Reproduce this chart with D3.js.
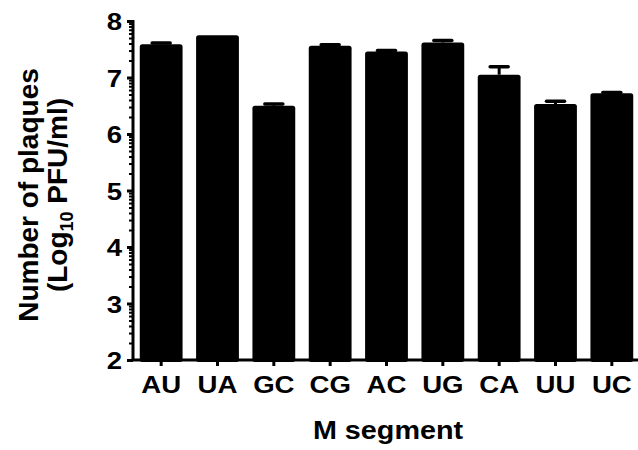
<!DOCTYPE html>
<html>
<head>
<meta charset="utf-8">
<script src="https://cdn.jsdelivr.net/npm/d3@7"></script>
<style>
  body { margin: 0; background: #fff; }
  text { font-family: Arial, "Liberation Sans", sans-serif; font-weight: bold; fill: #000; }
</style>
</head>
<body>
<svg id="chart" width="638" height="450"></svg>
<script>
'use strict';

var segments = ["AU", "UA", "GC", "CG", "AC", "UG", "CA", "UU", "UC"];
var plaques  = [7.59, 7.75, 6.50, 7.56, 7.46, 7.62, 7.05, 6.53, 6.72];
var sem      = [0.02, 0.00, 0.03, 0.02, 0.02, 0.035, 0.14, 0.05, 0.015];
var yTicks   = [2, 3, 4, 5, 6, 7, 8];

var WIDTH = 638;
var HEIGHT = 450;
var LEFT = 133;
var RIGHT = 640;
var TOP = 21;
var BOTTOM = 360;
var STRETCH = 1.15; // the picture's text is a bit wider than plain Arial

var svg = d3.select("#chart");

var x = d3.scaleBand()
.domain(segments)
.range([LEFT, RIGHT])
.paddingInner(0.24)
.paddingOuter(0.12);

var y = d3.scaleLinear()
.domain([2, 8])
.range([BOTTOM, TOP]);

// minor ticks, log spaced inside each unit
var minor = [];
yTicks.slice(0, -1).forEach(function(v){
  for (var k = 2; k <= 9; k++) minor.push(v + Math.log10(k));
});

// bars
svg.append("g")
.selectAll("rect")
.data(segments)
.enter().append("rect")
.attr("x", function(d){ return x(d); })
.attr("y", function(d, i){ return y(plaques[i]); })
.attr("width", x.bandwidth())
.attr("height", function(d, i){ return BOTTOM - y(plaques[i]) + 2; })
.attr("rx", 2.5)
.attr("fill", "#000");

// error bars (upper only)
var err = svg.append("g").attr("stroke", "#000");
segments.forEach(function(d, i){
  if (!sem[i]) return;
  var cx = x(d) + x.bandwidth()/2;
  err.append("line")
  .attr("x1", cx).attr("x2", cx)
  .attr("y1", y(plaques[i])).attr("y2", y(plaques[i] + sem[i]))
  .attr("stroke-width", 3);
  err.append("line")
  .attr("x1", cx - 9).attr("x2", cx + 9)
  .attr("y1", y(plaques[i] + sem[i])).attr("y2", y(plaques[i] + sem[i]))
  .attr("stroke-width", 3.5)
  .attr("stroke-linecap", "round");
});

// y axis
var yAxis = svg.append("g")
.attr("transform", "translate(" + LEFT + ",0)")
.call(d3.axisLeft(y).tickValues(yTicks).tickFormat(d3.format("d")).tickSize(6).tickPadding(0));

svg.append("g")
.attr("transform", "translate(" + LEFT + ",0)")
.call(d3.axisLeft(y).tickValues(minor).tickSize(4).tickFormat(""))
.call(function(g){ g.select(".domain").remove(); })
.selectAll("line").attr("stroke-width", 2);

yAxis.select(".domain").attr("d", "M0," + (TOP - 1) + "V" + BOTTOM).attr("stroke-width", 3);
yAxis.selectAll(".tick line").attr("stroke-width", 3);
yAxis.selectAll("text")
.attr("x", 0)
.attr("transform", "translate(-11,0) scale(" + STRETCH + ",1)")
.attr("font-size", 24).attr("font-family", null).attr("dy", "0.36em");

// x axis
var xAxis = svg.append("g")
.attr("transform", "translate(0," + BOTTOM + ")")
.call(d3.axisBottom(x).tickSize(6).tickPadding(10));

xAxis.select(".domain").attr("d", "M" + (LEFT - 1.5) + ",0H" + WIDTH).attr("stroke-width", 3);
xAxis.selectAll(".tick line").attr("stroke-width", 3);
xAxis.selectAll("text")
.attr("transform", "scale(" + STRETCH + ",1)")
.attr("font-size", 24).attr("font-family", null);

// axis titles
svg.append("text")
.attr("transform", "translate(388,439) scale(" + STRETCH + ",1)")
.attr("text-anchor", "middle")
.attr("font-size", 25)
.text("M segment");

var yTitle = svg.append("text")
.attr("transform", "translate(0," + 195 + ") rotate(-90)")
.attr("text-anchor", "middle")
.attr("font-size", 28);

yTitle.append("tspan").attr("x", 0).attr("y", 38).text("Number of plaques");
var l2 = yTitle.append("tspan").attr("x", 0).attr("y", 67);
l2.append("tspan").text("(Log");
l2.append("tspan").attr("font-size", 18).attr("dy", 6).text("10");
l2.append("tspan").attr("dy", -6).text(" PFU/ml)");
</script>
</body>
</html>
